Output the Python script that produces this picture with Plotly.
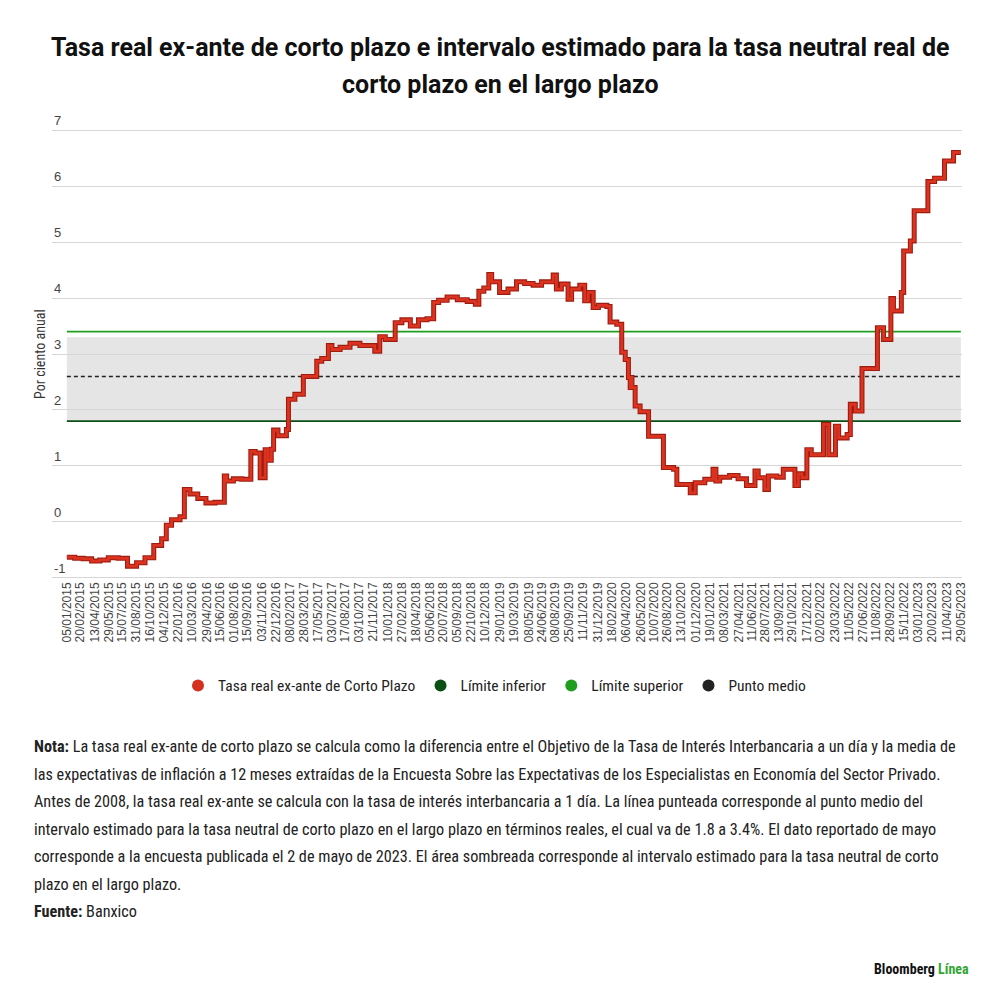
import plotly.graph_objects as go
from datetime import datetime, timedelta

# ---------------- data ----------------
tick_labels = [
    "05/01/2015", "20/02/2015", "13/04/2015", "29/05/2015", "15/07/2015", "31/08/2015",
    "16/10/2015", "04/12/2015", "22/01/2016", "10/03/2016", "29/04/2016", "15/06/2016",
    "01/08/2016", "15/09/2016", "03/11/2016", "22/12/2016", "08/02/2017", "28/03/2017",
    "17/05/2017", "03/07/2017", "17/08/2017", "03/10/2017", "21/11/2017", "10/01/2018",
    "27/02/2018", "18/04/2018", "05/06/2018", "20/07/2018", "05/09/2018", "22/10/2018",
    "10/12/2018", "29/01/2019", "19/03/2019", "08/05/2019", "24/06/2019", "08/08/2019",
    "25/09/2019", "11/11/2019", "31/12/2019", "18/02/2020", "06/04/2020", "26/05/2020",
    "10/07/2020", "26/08/2020", "13/10/2020", "01/12/2020", "19/01/2021", "08/03/2021",
    "27/04/2021", "11/06/2021", "28/07/2021", "13/09/2021", "29/10/2021", "17/12/2021",
    "02/02/2022", "23/03/2022", "11/05/2022", "27/06/2022", "11/08/2022", "28/09/2022",
    "15/11/2022", "03/01/2023", "20/02/2023", "11/04/2023", "29/05/2023",
]
y_tick_values = [-1, 0, 1, 2, 3, 4, 5, 6, 7]
y_tick_labels = ["-1", "0", "1", "2", "3", "4", "5", "6", "7"]

rate_dates = [
    "2015-01-05", "2015-02-01", "2015-03-02", "2015-03-31", "2015-04-28", "2015-05-27",
    "2015-06-30", "2015-08-01", "2015-09-01", "2015-09-30", "2015-10-30", "2015-11-26",
    "2015-12-12", "2015-12-30", "2016-01-28", "2016-02-12", "2016-03-02", "2016-03-29",
    "2016-04-26", "2016-05-27", "2016-06-28", "2016-07-06", "2016-07-29", "2016-08-27",
    "2016-09-27", "2016-10-12", "2016-10-29", "2016-11-15", "2016-11-25", "2016-12-06",
    "2016-12-14", "2016-12-29", "2017-01-27", "2017-02-03", "2017-02-25", "2017-03-26",
    "2017-05-11", "2017-05-28", "2017-06-20", "2017-07-02", "2017-07-30", "2017-09-02",
    "2017-10-06", "2017-11-26", "2017-12-13", "2018-01-01", "2018-02-04", "2018-02-27",
    "2018-03-28", "2018-04-25", "2018-05-24", "2018-06-16", "2018-07-03", "2018-08-01",
    "2018-09-05", "2018-10-09", "2018-11-06", "2018-11-18", "2018-12-05", "2018-12-22",
    "2019-01-01", "2019-01-28", "2019-02-26", "2019-03-27", "2019-04-24", "2019-05-23",
    "2019-06-21", "2019-07-31", "2019-08-11", "2019-08-28", "2019-09-20", "2019-10-02",
    "2019-10-30", "2019-11-16", "2019-11-28", "2019-12-15", "2020-01-02", "2020-01-31",
    "2020-02-11", "2020-03-05", "2020-03-22", "2020-04-03", "2020-04-14", "2020-04-20",
    "2020-04-23", "2020-04-26", "2020-05-07", "2020-05-24", "2020-06-22", "2020-08-12",
    "2020-09-16", "2020-09-27", "2020-11-12", "2020-11-29", "2021-01-01", "2021-01-29",
    "2021-02-08", "2021-02-21", "2021-03-27", "2021-04-25", "2021-05-24", "2021-06-22",
    "2021-07-03", "2021-07-26", "2021-08-07", "2021-09-05", "2021-09-27", "2021-11-06",
    "2021-11-18", "2021-11-30", "2021-12-17", "2022-01-01", "2022-02-12", "2022-03-02",
    "2022-03-25", "2022-04-05", "2022-05-04", "2022-05-15", "2022-06-01", "2022-06-24",
    "2022-08-16", "2022-09-06", "2022-10-01", "2022-10-10", "2022-11-06", "2022-11-14",
    "2022-12-07", "2022-12-20", "2023-02-05", "2023-02-28", "2023-04-03", "2023-05-04",
    "2023-05-29",
]
rate_values = [
    -0.63, -0.65, -0.66, -0.70, -0.68, -0.64,
    -0.65, -0.79, -0.73, -0.64, -0.42, -0.30,
    -0.06, 0.04, 0.09, 0.58, 0.50, 0.42,
    0.34, 0.35, 0.82, 0.73, 0.77, 0.76,
    1.26, 1.23, 0.79, 1.29, 1.10, 1.30,
    1.64, 1.54, 1.65, 2.19, 2.28, 2.60,
    2.87, 2.92, 3.15, 3.08, 3.12, 3.19,
    3.15, 3.05, 3.31, 3.26, 3.56, 3.61,
    3.50, 3.61, 3.63, 3.92, 3.96, 4.02,
    3.97, 3.94, 3.89, 4.12, 4.18, 4.42,
    4.29, 4.10, 4.16, 4.29, 4.26, 4.23,
    4.29, 4.41, 4.16, 4.25, 3.98, 4.16,
    4.23, 3.95, 4.10, 3.83, 3.87, 3.85,
    3.57, 3.53, 3.03, 2.90, 2.58, 2.40,
    2.58, 2.40, 2.07, 1.97, 1.53, 0.97,
    0.94, 0.67, 0.52, 0.70, 0.76, 0.94,
    0.73, 0.80, 0.83, 0.77, 0.65, 0.91,
    0.79, 0.58, 0.82, 0.80, 0.94, 0.65,
    0.86, 0.79, 1.29, 1.20, 1.74, 1.20,
    1.71, 1.50, 1.56, 2.10, 1.98, 2.74,
    3.47, 3.26, 3.99, 3.77, 4.10, 4.84,
    5.02, 5.56, 6.08, 6.14, 6.45, 6.60,
    6.60,
]

limite_inferior = 1.8
limite_superior = 3.4
punto_medio = 2.6
banda_baja = 1.8
banda_alta = 3.3

series_names = ["Tasa real ex-ante de Corto Plazo", "Límite inferior", "Límite superior", "Punto medio"]
series_colors = ["#d3301d", "#0b4f14", "#1f9e1f", "#222222"]

title_lines = [
    "Tasa real ex-ante de corto plazo e intervalo estimado para la tasa neutral real de",
    "corto plazo en el largo plazo",
]
note_lines = [
    "<b>Nota:</b> La tasa real ex-ante de corto plazo se calcula como la diferencia entre el Objetivo de la Tasa de Interés Interbancaria a un día y la media de",
    "las expectativas de inflación a 12 meses extraídas de la Encuesta Sobre las Expectativas de los Especialistas en Economía del Sector Privado.",
    "Antes de 2008, la tasa real ex-ante se calcula con la tasa de interés interbancaria a 1 día. La línea punteada corresponde al punto medio del",
    "intervalo estimado para la tasa neutral de corto plazo en el largo plazo en términos reales, el cual va de 1.8 a 3.4%. El dato reportado de mayo",
    "corresponde a la encuesta publicada el 2 de mayo de 2023. El área sombreada corresponde al intervalo estimado para la tasa neutral de corto",
    "plazo en el largo plazo.",
    "<b>Fuente:</b> Banxico",
]

# ---------------- figure ----------------
NARROW = "Liberation Sans Narrow, Roboto Condensed, Arial Narrow, Liberation Sans, sans-serif"
TITLE_FONT = "Roboto, Liberation Sans, sans-serif"
tick_vals = [datetime.strptime(t, "%d/%m/%Y").strftime("%Y-%m-%d") for t in tick_labels]
x0, x1 = rate_dates[0], rate_dates[-1]

OFF = 8  # page body margin
PL, PR, PT, PB = 52, 962, 128.9, 579.1
W = PR - PL
H = PB - PT
L = PL - OFF
T = PT - OFF
R = 1000 - (PR - OFF)
B = 1000 - (PB - OFF)

fig = go.Figure()

fig.add_trace(go.Scatter(x=[x0, x1], y=[limite_inferior] * 2, mode="lines",
                         line=dict(color=series_colors[1], width=1.6), showlegend=False, hoverinfo="skip"))
fig.add_trace(go.Scatter(x=[x0, x1], y=[limite_superior] * 2, mode="lines",
                         line=dict(color=series_colors[2], width=1.6), showlegend=False, hoverinfo="skip"))
fig.add_trace(go.Scatter(x=[x0, x1], y=[punto_medio] * 2, mode="lines",
                         line=dict(color=series_colors[3], width=1.5, dash="4px,3px"), showlegend=False, hoverinfo="skip"))

fig.add_trace(go.Scatter(x=rate_dates, y=rate_values, mode="lines", line_shape="hv",
                         line=dict(color="#9c1c10", width=5), showlegend=False, hoverinfo="skip"))
fig.add_trace(go.Scatter(x=rate_dates, y=rate_values, mode="lines", line_shape="hv",
                         line=dict(color="#dc3220", width=2.8), showlegend=False))

for name, col in zip(series_names, series_colors):
    fig.add_trace(go.Scatter(x=[None], y=[None], mode="markers", name=name,
                             marker=dict(symbol="circle", size=15, color=col)))

fig.add_shape(type="rect", xref="x", yref="y", x0=x0, x1=x1, y0=banda_baja, y1=banda_alta,
              fillcolor="#e5e5e5", line=dict(width=0), layer="below")

range_start = (datetime.strptime(x0, "%Y-%m-%d") - timedelta(days=51)).strftime("%Y-%m-%d")
range_end = (datetime.strptime(x1, "%Y-%m-%d") + timedelta(days=4)).strftime("%Y-%m-%d")

fig.update_xaxes(type="date", range=[range_start, range_end], tickmode="array",
                 tickvals=tick_vals, ticktext=tick_labels, tickangle=-90,
                 tickfont=dict(family="Liberation Sans, Arial, sans-serif", size=12, color="#444444"),
                 showgrid=False, zeroline=False, showline=False, ticks="")
fig.update_yaxes(range=[-1.02, 7.02], tickmode="array", tickvals=y_tick_values,
                 showticklabels=False, showgrid=True, gridcolor="#d6d6d6", gridwidth=1,
                 zeroline=False, showline=False, ticks="")

def py(ypix):
    return (PB - ypix) / H

def px(xpix):
    return (xpix - PL) / W

ann = []
for v, lab in zip(y_tick_values, y_tick_labels):
    ann.append(dict(text=lab, x=0, y=v, xref="paper", yref="y", xanchor="left", yanchor="bottom",
                    yshift=0, showarrow=False,
                    font=dict(family="Liberation Sans, Arial, sans-serif", size=13, color="#444444")))
ann.append(dict(text="<b>" + title_lines[0] + "</b>", x=px(500), y=py(47), xref="paper", yref="paper",
                xanchor="center", yanchor="middle", showarrow=False,
                font=dict(family=TITLE_FONT, size=25, color="#111111")))
ann.append(dict(text="<b>" + title_lines[1] + "</b>", x=px(500), y=py(84), xref="paper", yref="paper",
                xanchor="center", yanchor="middle", showarrow=False,
                font=dict(family=TITLE_FONT, size=25, color="#111111")))
ann.append(dict(text="Por ciento anual", x=px(40), y=py(354), xref="paper", yref="paper",
                xanchor="center", yanchor="middle", textangle=-90, showarrow=False,
                font=dict(family=NARROW, size=14, color="#333333")))
for i, line in enumerate(note_lines):
    ann.append(dict(text=line, x=px(32), y=py(747 + 27.5 * i), xref="paper", yref="paper",
                    xanchor="left", yanchor="middle", showarrow=False,
                    font=dict(family=NARROW, size=16.2, color="#222222")))
ann.append(dict(text="<b>Bloomberg <span style='color:#33a533'>Línea</span></b>", x=px(971), y=py(969),
                xref="paper", yref="paper", xanchor="right", yanchor="middle", showarrow=False,
                font=dict(family=NARROW, size=14, color="#111111")))

fig.update_layout(
    width=1000, height=1000,
    margin=dict(l=L, r=R, t=T, b=B),
    paper_bgcolor="white", plot_bgcolor="white",
    showlegend=True,
    legend=dict(orientation="h", x=px(495), xanchor="center", y=py(686), yanchor="middle",
                font=dict(family=NARROW, size=15.5, color="#222222"), itemsizing="constant",
                bgcolor="rgba(0,0,0,0)", traceorder="normal", tracegroupgap=0, itemwidth=30),
    annotations=ann,
    hovermode=False,
)

fig.write_html("out.html")
